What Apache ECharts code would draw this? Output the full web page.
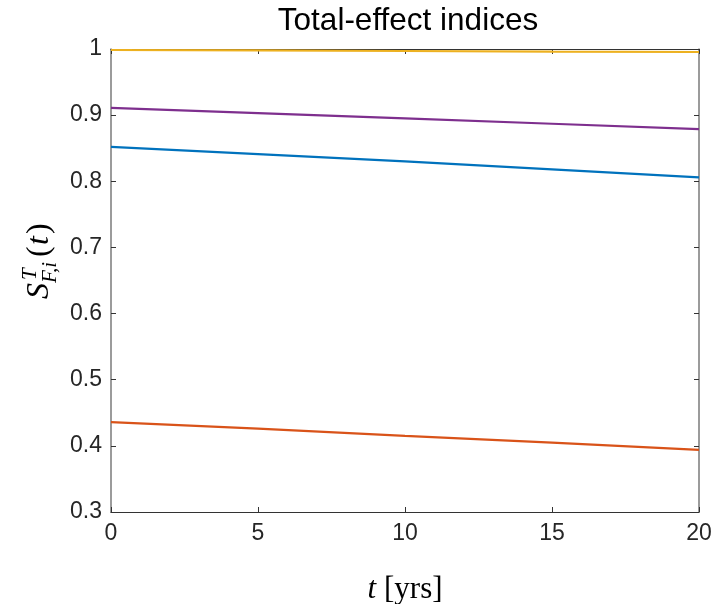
<!DOCTYPE html>
<html>
<head>
<meta charset="utf-8">
<script src="https://cdn.jsdelivr.net/npm/echarts@6/dist/echarts.min.js"></script>
<style>
html,body{margin:0;padding:0;background:#fff;}
#chart{width:717px;height:604px;}
</style>
</head>
<body>
<div id="chart"></div>
<script>
// Data
const tYears = [0, 5, 10, 15, 20];
const seriesBlue = [0.852, 0.841, 0.830, 0.818, 0.806];
const seriesOrange = [0.436, 0.426, 0.415, 0.405, 0.394];
const seriesYellow = [0.9985, 0.998, 0.997, 0.996, 0.9955];
const seriesPurple = [0.911, 0.903, 0.895, 0.887, 0.879];
const xTicks = [0, 5, 10, 15, 20];
const yTicks = [0.3, 0.4, 0.5, 0.6, 0.7, 0.8, 0.9, 1];

const seriesList = [
  {name: 'blue', values: seriesBlue, color: '#0072BD'},
  {name: 'orange', values: seriesOrange, color: '#D95319'},
  {name: 'yellow', values: seriesYellow, color: '#EDB120'},
  {name: 'purple', values: seriesPurple, color: '#7E2F8E'}
];

const axisColor = '#262626';
const hLineColor = '#333333';
const vLineColor = '#7a7a7a';
const chart = echarts.init(document.getElementById('chart'), null, {renderer: 'canvas'});

const baseX = {
  type: 'value', min: xTicks[0], max: xTicks[xTicks.length - 1], interval: 5,
  axisLine: {show: true, onZero: false, lineStyle: {color: hLineColor, width: 1.2}},
  axisTick: {show: true, inside: true, length: 5, lineStyle: {color: hLineColor}},
  splitLine: {show: false}
};
const baseY = {
  type: 'value', min: yTicks[0], max: yTicks[yTicks.length - 1], interval: 0.1,
  axisLine: {show: true, onZero: false, lineStyle: {color: vLineColor, width: 1.5}},
  axisTick: {show: true, inside: true, length: 5, lineStyle: {color: hLineColor}},
  splitLine: {show: false}
};

const serif = 'Liberation Serif';
function glyph(text, x, baseline, size, italic) {
  return {
    type: 'text', x: x, y: baseline + 0.22 * size,
    style: {text: text, fontFamily: serif, fontStyle: italic ? 'italic' : 'normal', fontSize: size, fill: '#000', verticalAlign: 'bottom', align: 'left'}
  };
}

chart.setOption({
  animation: false,
  backgroundColor: '#ffffff',
  title: {
    text: 'Total-effect indices',
    left: 403, top: 0, textAlign: 'center',
    textStyle: {fontFamily: 'Liberation Sans', fontWeight: 'normal', fontSize: 31.5, color: '#000'}
  },
  grid: {left: 111, right: 18, top: 49, bottom: 92, containLabel: false, outerBoundsMode: 'none'},
  xAxis: [
    Object.assign({}, baseX, {
      position: 'bottom',
      axisLabel: {show: true, margin: 10, fontFamily: 'Liberation Sans', fontSize: 23, color: axisColor},
      name: '{i|t}{r|[yrs]}', nameLocation: 'middle', nameGap: 62,
      nameTextStyle: {
        rich: {
          i: {fontFamily: serif, fontStyle: 'italic', fontSize: 31, color: '#000', padding: [0, 8, 0, 0]},
          r: {fontFamily: serif, fontSize: 31, color: '#000'}
        }
      }
    }),
    Object.assign({}, baseX, {position: 'top', axisLabel: {show: false}})
  ],
  yAxis: [
    Object.assign({}, baseY, {
      position: 'left',
      axisLabel: {show: true, margin: 9, fontFamily: 'Liberation Sans', fontSize: 23, color: axisColor}
    }),
    Object.assign({}, baseY, {position: 'right', axisLabel: {show: false}})
  ],
  graphic: [{
    type: 'group', x: 49, y: 299, rotation: Math.PI / 2,
    children: [
      glyph('S', 0, 0, 32, true),
      glyph('T', 19, -13, 21, true),
      glyph('F,i', 16, 7, 21, true),
      glyph('(', 42, 0, 32, false),
      glyph('t', 54, 0, 32, true),
      glyph(')', 65, 0, 32, false)
    ]
  }],
  series: seriesList.map(s => ({
    name: s.name, type: 'line', xAxisIndex: 0, yAxisIndex: 0,
    data: tYears.map((t, i) => [t, s.values[i]]),
    showSymbol: false, symbol: 'none',
    lineStyle: {color: s.color, width: 2.2},
    itemStyle: {color: s.color}
  }))
});
</script>
</body>
</html>
